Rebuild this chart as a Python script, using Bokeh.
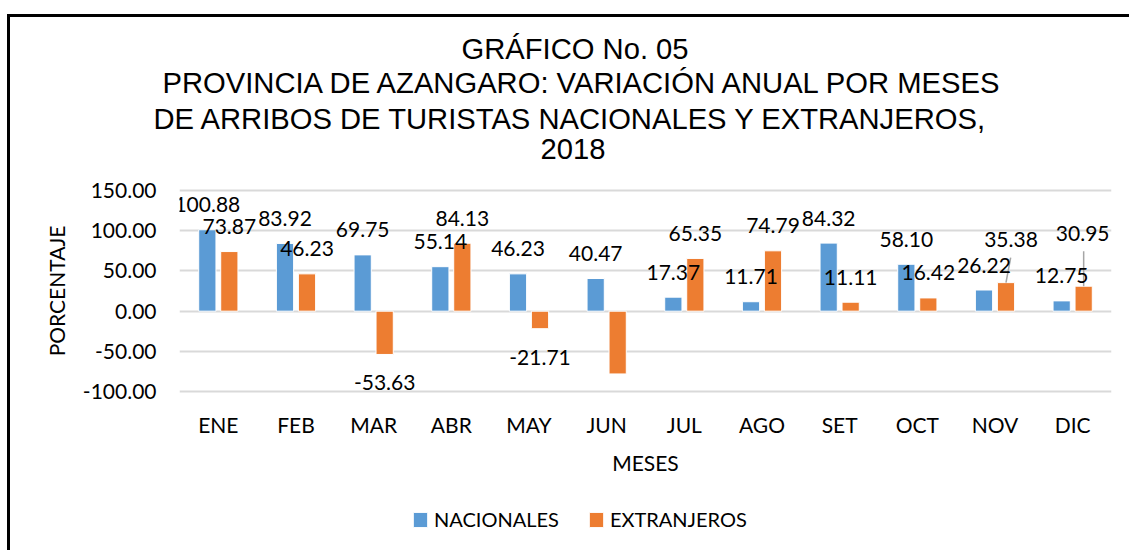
from bokeh.plotting import figure
from bokeh.layouts import column
from bokeh.models import (FactorRange, Range1d, ColumnDataSource, Legend, LegendItem, Title,
                          FixedTicker, NumeralTickFormatter)
from bokeh.transform import dodge
from bokeh.core.properties import value
from bokeh.embed import file_html
from bokeh.resources import INLINE

# ---------------- data ----------------
months = ["ENE", "FEB", "MAR", "ABR", "MAY", "JUN", "JUL", "AGO", "SET", "OCT", "NOV", "DIC"]
nacionales = [100.88, 83.92, 69.75, 55.14, 46.23, 40.47, 17.37, 11.71, 84.32, 58.10, 26.22, 12.75]
extranjeros = [73.87, 46.23, -53.63, 84.13, -21.71, -77.78, 65.35, 74.79, 11.11, 16.42, 35.38, 30.95]
y_ticks = [-100, -50, 0, 50, 100, 150]
title_lines = ["GRÁFICO No. 05",
               "PROVINCIA DE AZANGARO: VARIACIÓN ANUAL POR MESES",
               "DE ARRIBOS DE TURISTAS NACIONALES Y EXTRANJEROS,",
               "2018"]
series_names = ["NACIONALES", "EXTRANJEROS"]

# ---------------- label placement (pixels) ----------------
nac_dx = [0] * 12
nac_dy = [-25] * 12
ext_dx = [0, 0, 0, 0, 0, 0, 0, 0, 0, 0, 5, -1]
ext_dy = [-25, -25, 28, -25, 29, 28, -25, -25, -25, -25, -43, -53]
title_off = [282, -17, -26, 361]      # left edge of each title line, relative to frame left
title_stand = [0, 0, 4, 0]
title_gap = 27                        # spacer between the last title line and the plot area

BLUE = "#5B9BD5"
ORANGE = "#ED7D31"
FONT = "Lato"
W, H1, H2 = 1119, 480, 53
OFF = 0.1416
BW = 0.222

fig = figure(x_range=FactorRange(*months, range_padding=0), y_range=Range1d(-102, 152),
             width=W, height=H1, output_backend="svg", toolbar_location=None,
             min_border_left=169, min_border_right=18, min_border_top=171, min_border_bottom=104)
fig.title = None
fig.outline_line_color = None
fig.background_fill_color = "white"
fig.border_fill_color = "white"

src = ColumnDataSource(dict(
    month=months, nac=nacionales, ext=extranjeros,
    nac_lab=[f"{v:.2f}" for v in nacionales],
    ext_lab=[f"{v:.2f}" for v in extranjeros],
    nac_dx=nac_dx, nac_dy=nac_dy, ext_dx=ext_dx, ext_dy=ext_dy,
))

fig.vbar(x=dodge("month", -OFF, range=fig.x_range), top="nac", bottom=0, width=BW, source=src,
         fill_color=BLUE, line_color="white", line_width=1)
fig.vbar(x=dodge("month", OFF, range=fig.x_range), top="ext", bottom=0, width=BW, source=src,
         fill_color=ORANGE, line_color="white", line_width=1)

# leader lines for NOV and DIC (orange)
px_per_unit = 205.0 / 254.0
nov_i, dic_i = months.index("NOV"), months.index("DIC")
lead_nov = ColumnDataSource(dict(month=[months[nov_i]], y0=[extranjeros[nov_i]],
                                 y1=[extranjeros[nov_i] + (-ext_dy[nov_i] - 18) / px_per_unit]))
lead_dic = ColumnDataSource(dict(month=[months[dic_i]], y0=[extranjeros[dic_i]],
                                 y1=[extranjeros[dic_i] + (-ext_dy[dic_i] - 18) / px_per_unit]))
fig.segment(x0=dodge("month", OFF, range=fig.x_range), y0="y0",
            x1=dodge("month", OFF + 0.06, range=fig.x_range), y1="y1",
            source=lead_nov, line_color="#A6A6A6", line_width=1.5)
fig.segment(x0=dodge("month", OFF, range=fig.x_range), y0="y0",
            x1=dodge("month", OFF, range=fig.x_range), y1="y1",
            source=lead_dic, line_color="#A6A6A6", line_width=1.5)

fig.text(x=dodge("month", -OFF, range=fig.x_range), y="nac", text="nac_lab", source=src,
         x_offset="nac_dx", y_offset="nac_dy", text_align="center", text_baseline="middle",
         text_font=value(FONT), text_font_size="21px", text_color="#000000")
fig.text(x=dodge("month", OFF, range=fig.x_range), y="ext", text="ext_lab", source=src,
         x_offset="ext_dx", y_offset="ext_dy", text_align="center", text_baseline="middle",
         text_font=value(FONT), text_font_size="21px", text_color="#000000")

# axes
fig.xgrid.grid_line_color = None
fig.ygrid.grid_line_color = "#D9D9D9"
fig.ygrid.grid_line_width = 2
fig.yaxis.ticker = FixedTicker(ticks=y_ticks)
fig.yaxis.formatter = NumeralTickFormatter(format="0.00")
for ax in (fig.xaxis[0], fig.yaxis[0]):
    ax.axis_line_color = None
    ax.major_tick_line_color = None
    ax.minor_tick_line_color = None
    ax.major_tick_out = 0
    ax.major_tick_in = 0
    ax.minor_tick_out = 0
    ax.major_label_text_font = FONT
    ax.major_label_text_font_size = "21px"
    ax.major_label_text_color = "#000000"
    ax.axis_label_text_font = FONT
    ax.axis_label_text_font_size = "21px"
    ax.axis_label_text_font_style = "normal"
    ax.axis_label_text_color = "#000000"
fig.yaxis.major_label_standoff = 23
fig.xaxis.major_label_standoff = 18
fig.yaxis.axis_label = "PORCENTAJE"
fig.xaxis.axis_label = "MESES"
fig.yaxis.axis_label_standoff = 11
fig.xaxis.axis_label_standoff = 10

# title lines (added bottom-up: the first one added sits nearest the frame)
fig.add_layout(Title(text=" ", text_font_size="1px", standoff=title_gap), "above")
for i in reversed(range(len(title_lines))):
    fig.add_layout(Title(text=title_lines[i], align="left", offset=title_off[i],
                         standoff=title_stand[i], text_font="Liberation Sans",
                         text_font_size="29.2px", text_font_style="normal",
                         text_color="#000000"), "above")

# legend strip (its frame is aligned with the chart frame by the column layout)
leg = figure(width=W, height=H2, x_range=Range1d(0, 1), y_range=Range1d(0, 1),
             x_axis_type=None, y_axis_type=None, output_backend="svg", toolbar_location=None,
             min_border_left=0, min_border_right=0, min_border_top=0, min_border_bottom=0)
leg.outline_line_color = None
leg.background_fill_color = "white"
leg.border_fill_color = "white"
# legend proxies: one bar each, placed outside the visible range of the strip
lr1 = leg.vbar(x=[-10], top=[0], width=0.1, fill_color=BLUE, line_color="white", line_width=1)
lr2 = leg.vbar(x=[-10], top=[0], width=0.1, fill_color=ORANGE, line_color="white", line_width=1)
legend = Legend(items=[LegendItem(label=series_names[0], renderers=[lr1]),
                       LegendItem(label=series_names[1], renderers=[lr2])],
                orientation="horizontal", location=(232, 19),
                glyph_width=18, glyph_height=19, label_standoff=5, spacing=28,
                padding=0, margin=0, border_line_color=None, background_fill_alpha=0,
                label_text_font=FONT, label_text_font_size="20px", label_text_color="#000000")
leg.add_layout(legend, "center")

p = column(fig, leg, spacing=0)
p.styles = {"margin-left": "7px", "margin-top": "14px",
            "border-left": "3px solid black", "border-top": "3px solid black"}

open("out.html", "w").write(file_html(p, INLINE))
